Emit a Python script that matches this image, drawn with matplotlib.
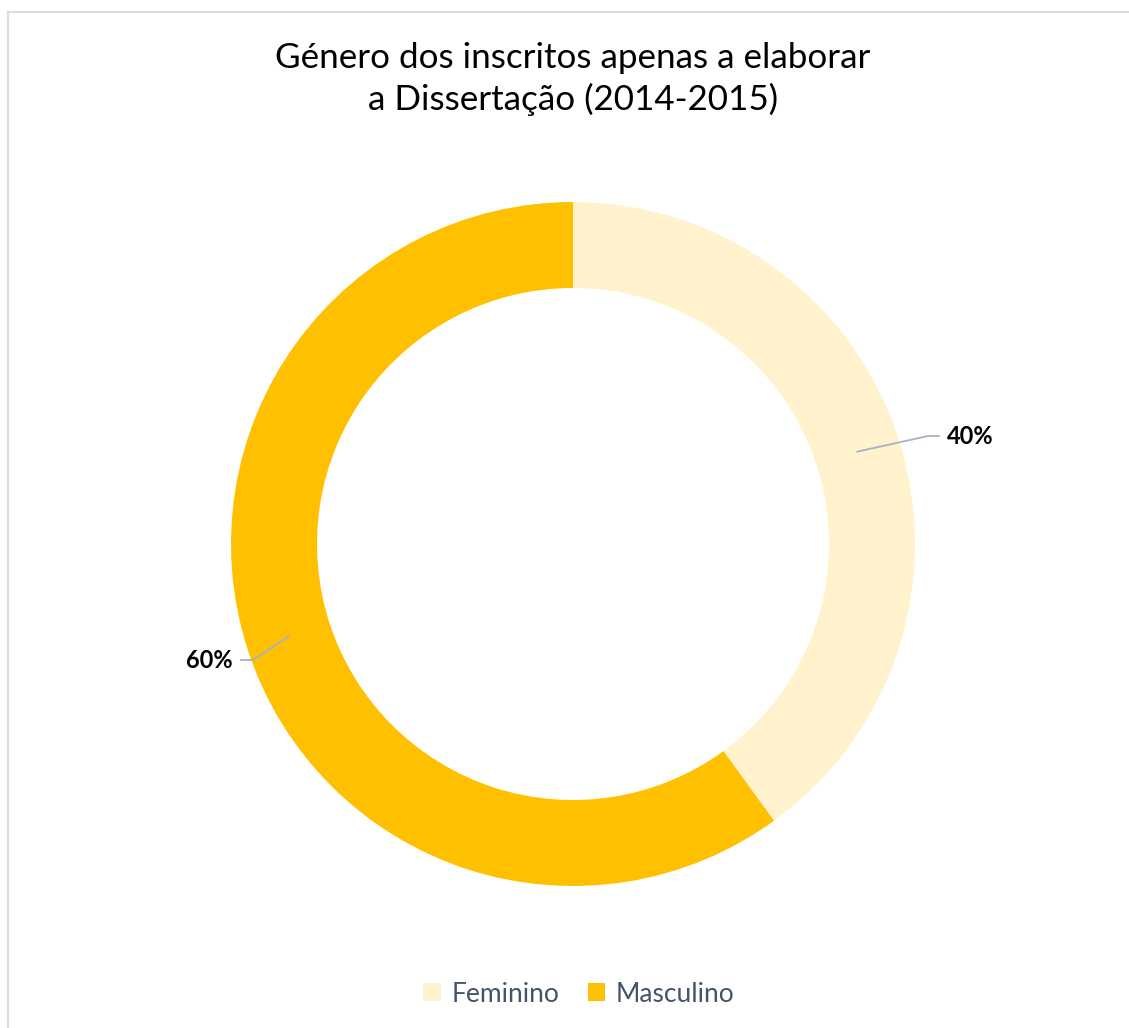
import matplotlib
matplotlib.use("Agg")
import matplotlib.pyplot as plt
import numpy as np
from matplotlib.patches import Patch
from matplotlib.lines import Line2D

plt.rcParams['font.family'] = ['Lato', 'DejaVu Sans']

categories = ['Feminino', 'Masculino']
shares = [40, 60]
colors = ['#FFF2CC', '#FFC000']
title = 'Género dos inscritos apenas a elaborar\na Dissertação (2014-2015)'

W, H = 1129, 1028
cx, cy = 573, H - 544
r_out, ring = 342, 86
# elbow / label positions for the leader lines (pixel offsets from centre)
elbows = [(355, 108), (-320, -116)]
ends = [(366, 108), (-332, -116)]

fig = plt.figure(figsize=(W / 100, H / 100), dpi=100)
ax = fig.add_axes([0, 0, 1, 1])

wedges, _ = ax.pie(shares, colors=colors, startangle=90, counterclock=False,
                   radius=r_out, center=(cx, cy),
                   wedgeprops=dict(width=ring, linewidth=0), frame=True)
ax.set_xlim(0, W)
ax.set_ylim(0, H)
ax.set_aspect('auto')
ax.axis('off')

r_mid = r_out - ring / 2
for w, val, el, en in zip(wedges, shares, elbows, ends):
    ang = np.deg2rad((w.theta1 + w.theta2) / 2)
    x0, y0 = cx + r_mid * np.cos(ang), cy + r_mid * np.sin(ang)
    ax.plot([x0, cx + el[0], cx + en[0]], [y0, cy + el[1], cy + en[1]],
            color='#A6B3C4', lw=1.3)
    ha = 'left' if en[0] > 0 else 'right'
    dx = 8 if en[0] > 0 else -8
    ax.text(cx + en[0] + dx, cy + en[1], f'{val}%', ha=ha, va='center',
            fontsize=17, fontweight='bold', color='black')

ax.text(573, H - 79, title, ha='center', va='center', fontsize=25.2,
        color='black', linespacing=1.3)

handles = [Patch(facecolor=c, edgecolor='none', label=l) for c, l in zip(colors, categories)]
fig.legend(handles=handles, loc='center', bbox_to_anchor=(579 / W, 1 - 994 / H),
           ncol=2, frameon=False, fontsize=19, handlelength=0.65, handleheight=0.65,
           handletextpad=0.4, columnspacing=1.1, labelcolor='#44546A')

# outer frame of the chart area
fig.add_artist(Line2D([8 / W, 1], [1 - 12 / H, 1 - 12 / H], color='#D9DEE5', lw=1.5))
fig.add_artist(Line2D([8 / W, 8 / W], [0, 1 - 12 / H], color='#D9DEE5', lw=1.5))

fig.savefig('out.png', dpi=100)
